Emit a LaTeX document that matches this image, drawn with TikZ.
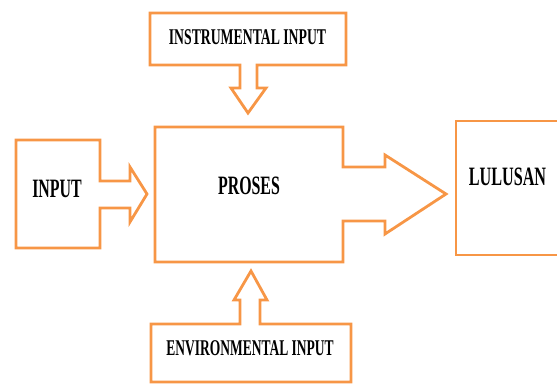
\documentclass[tikz,border=0pt]{standalone}
\usepackage{fontspec}
\usepackage{graphicx}
\setmainfont{Liberation Serif}
\tikzset{
  outline/.style={draw={rgb,255:red,247;green,150;blue,70}, line width=2.8pt, line join=miter},
  biglabel/.style={inner sep=0pt, font=\fontsize{26.5}{26.5}\selectfont\bfseries},
  longlabel/.style={inner sep=0pt, font=\fontsize{22.5}{22.5}\selectfont\bfseries}
}
\newcommand{\narrow}[2]{\scalebox{#1}[1]{#2}}
\begin{document}
\begin{tikzpicture}[x=1pt,y=-1pt]
\useasboundingbox (0,0) rectangle (557,383);
% INPUT box with arrow
\draw[outline] (16,140) -- (100,140) -- (100,181) -- (130,181) -- (130,167) -- (147,194)
  -- (130,222) -- (130,208) -- (100,208) -- (100,248) -- (16,248) -- cycle;
% PROSES box with arrow
\draw[outline] (155,127) -- (343,127) -- (343,167) -- (385,167) -- (385,155) -- (446,194)
  -- (385,234) -- (385,221) -- (343,221) -- (343,262) -- (155,262) -- cycle;
% INSTRUMENTAL INPUT box with down arrow
\draw[outline] (150,13) -- (346,13) -- (346,65) -- (257,65) -- (257,88) -- (266,88)
  -- (248,113) -- (231,88) -- (240,88) -- (240,65) -- (150,65) -- cycle;
% ENVIRONMENTAL INPUT box with up arrow
\draw[outline] (151,324) -- (240,324) -- (240,300) -- (234,300) -- (251,271) -- (267,300)
  -- (260,300) -- (260,324) -- (351,324) -- (351,382) -- (151,382) -- cycle;
% LULUSAN box
\draw[outline] (456,121) rectangle (562,255);
% labels
\node[longlabel] (instr) at (247.5,37) {\narrow{0.61}{INSTRUMENTAL INPUT}};
\node[biglabel] (proses) at (249,186) {\narrow{0.60}{PROSES}};
\node[biglabel] (input) at (57,189) {\narrow{0.60}{INPUT}};
\node[biglabel] (lulusan) at (507.5,177) {\narrow{0.61}{LULUSAN}};
\node[longlabel] (env) at (250,348.5) {\narrow{0.60}{ENVIRONMENTAL INPUT}};
\end{tikzpicture}
\end{document}
